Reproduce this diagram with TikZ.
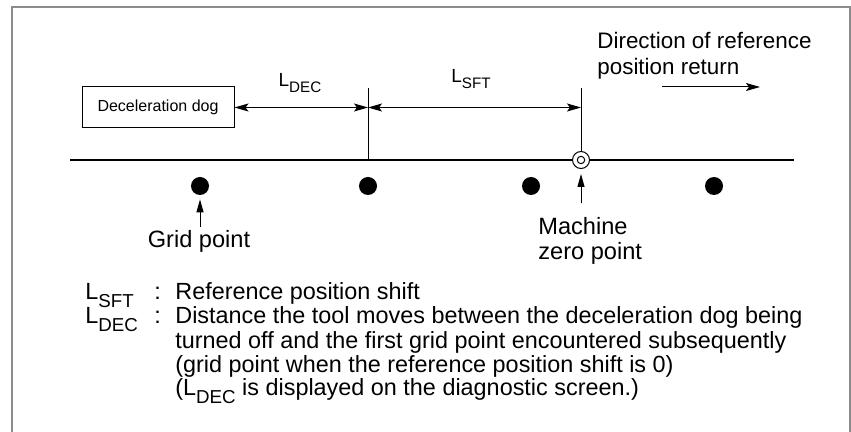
\documentclass[tikz,border=0pt]{standalone}
\usepackage{fontspec}
\setmainfont{Liberation Sans}
\usepackage{graphicx}
\usetikzlibrary{arrows.meta}
\definecolor{FrameGray}{gray}{0.55}
\newcommand{\Lsub}[1]{L\raisebox{-0.3em}{\scalebox{0.8}{#1}}}

\begin{document}
\begin{tikzpicture}[
    x=0.5pt, y=-0.5pt,
    font=\fontsize{11.7}{12}\selectfont,
    frame/.style={draw=FrameGray, line width=1pt},
    axis/.style={line width=1.2pt},
    tick/.style={line width=0.5pt},
    dogbox/.style={draw, line width=0.5pt, minimum width=76pt, minimum height=20.5pt,
        inner sep=0pt, font=\fontsize{8}{9}\selectfont},
    gridpt/.style={circle, fill=black, minimum size=9pt, inner sep=0pt},
    zeropt/.style={circle, draw, fill=white, line width=0.5pt, minimum size=8.5pt, inner sep=0pt},
    dim/.style={line width=0.5pt,
        {Stealth[length=7pt, width=4pt, inset=1.5pt]}-{Stealth[length=7pt, width=4pt, inset=1.5pt]}},
    dirarrow/.style={line width=0.5pt, -{Stealth[length=7pt, width=4pt, inset=1.5pt]}},
    ptr/.style={line width=0.5pt, -{Triangle[length=6.5pt, width=3.5pt]}},
    dimlabel/.style={anchor=base, inner sep=0pt, font=\fontsize{9.5}{11}\selectfont},
    txt/.style={anchor=base west, inner sep=0pt, align=left},
]

% --- frame ---
\useasboundingbox (0,0) rectangle (851,432);
\draw[frame] (12,432) -- (12,7) -- (850,7) -- (850,432);

% --- axis, marks and points ---
\coordinate (axisL) at (70,160);
\coordinate (axisR) at (794,160);
\coordinate (dogoff) at (368,88);
\coordinate (shifttop) at (581,88);
\draw[axis] (axisL) -- (axisR);
\draw[tick] (dogoff) -- (dogoff |- axisL);

\node[zeropt] (zero) at (581,160) {};
\node[zeropt, minimum size=3.7pt] (zeroin) at (zero) {};
\draw[tick] (shifttop) -- (zero.north);

\foreach \x [count=\i] in {200,368,531,714}
    \node[gridpt] (g\i) at (\x,186) {};

% --- dog and dimensions ---
\node[dogbox] (dog) at (158,107.5) {Deceleration dog};
\draw[dim] (dog.east) -- (dogoff |- dog.east);
\draw[dim] (dogoff |- dog.east) -- (shifttop |- dog.east);
\node[dimlabel] (ldec) at (300,87) {\Lsub{DEC}};
\node[dimlabel] (lsft) at (471,83) {\Lsub{SFT}};

% --- direction of return (base = last line) ---
\node[txt, font=\fontsize{11.2}{13.3}\selectfont] (dirtxt) at (597,75)
    {Direction of reference\\position return};
\coordinate (dirA) at (662,87);
\coordinate (dirB) at (760,87);
\draw[dirarrow] (dirA) -- (dirB);

% --- point labels ---
\node[anchor=base, inner sep=0pt, font=\fontsize{11.8}{12.5}\selectfont] (gridlbl) at (199,248) {Grid point};
\draw[ptr, shorten <=1.8pt, shorten >=2pt] (g1 |- gridlbl.north) -- (g1.south);
\node[txt, font=\fontsize{11.8}{12.5}\selectfont] (zerolbl) at (538,260) {Machine\\zero point};
\draw[ptr, shorten <=7pt, shorten >=2.5pt] (zero |- zerolbl.north) -- (zero.south);

% --- legend ---
\node[txt] (symsft) at (85,300) {\Lsub{SFT}};
\node[txt] (colsft) at (154,300) {:};
\node[txt] (txtsft) at (175,300) {Reference position shift};
\node[txt] (symdec) at (85,324) {\Lsub{DEC}};
\node[txt] (coldec) at (154,324) {:};
\node[txt] (txtdec) at (175,396)
    {Distance the tool moves between the deceleration dog being\\
     turned off and the first grid point encountered subsequently\\
     (grid point when the reference position shift is 0)\\
     (\Lsub{DEC} is displayed on the diagnostic screen.)};

\end{tikzpicture}
\end{document}
